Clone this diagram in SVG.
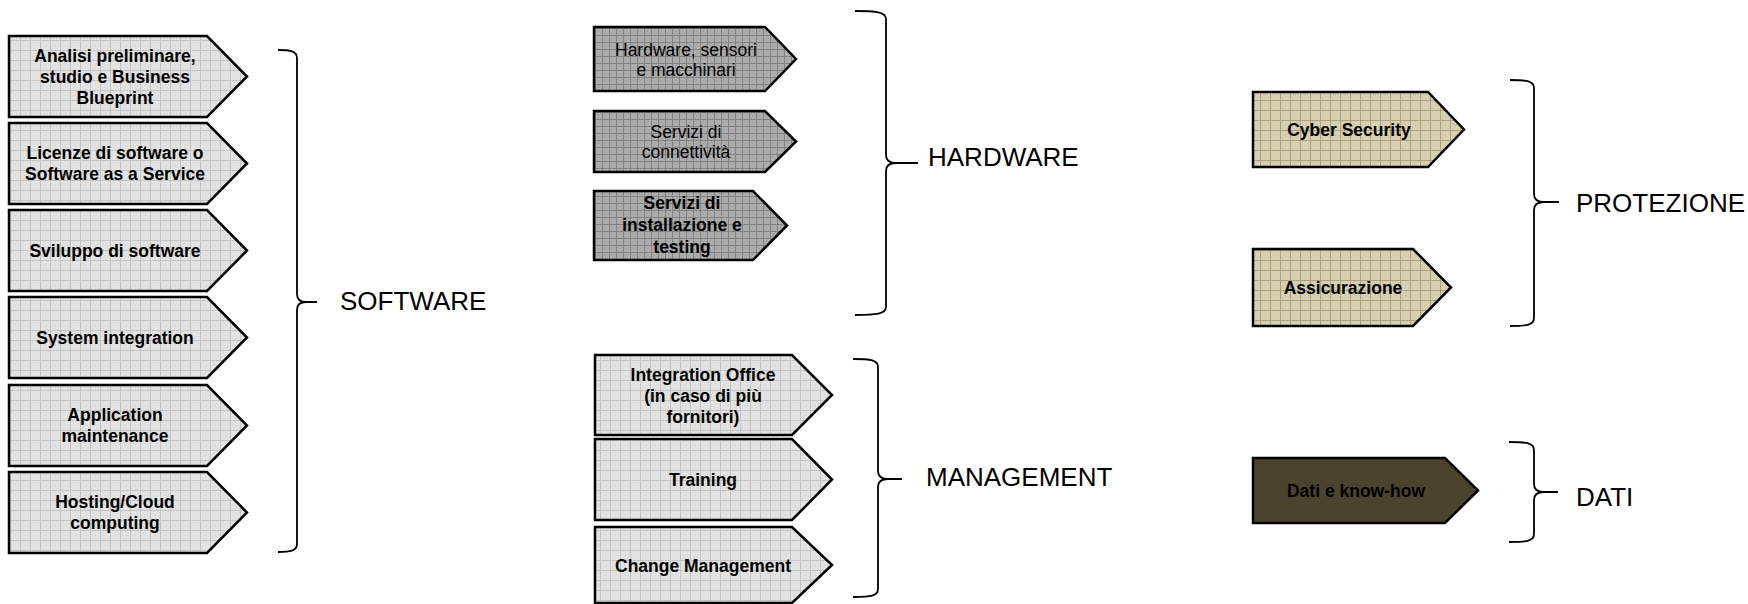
<svg xmlns="http://www.w3.org/2000/svg" width="1748" height="604" viewBox="0 0 1748 604">
<defs>
<pattern id="pLight" patternUnits="userSpaceOnUse" width="10" height="10">
<rect width="10" height="10" fill="#e2e2e2"/>
<rect x="5" y="5" width="1" height="1" fill="#d4d4d4"/>
<path d="M0 0.5H10M0.5 0V10" stroke="#c4c4c4" stroke-width="1"/>
</pattern>
<pattern id="pDark" patternUnits="userSpaceOnUse" width="7" height="7">
<rect width="7" height="7" fill="#acacac"/>
<rect x="3" y="3" width="1" height="1" fill="#9c9c9c"/>
<path d="M0 0.5H7M0.5 0V7" stroke="#828282" stroke-width="1"/>
</pattern>
<pattern id="pBeige" patternUnits="userSpaceOnUse" width="10" height="10">
<rect width="10" height="10" fill="#d6cfb2"/>
<rect x="5" y="5" width="1" height="1" fill="#c8c1a2"/>
<path d="M0 0.5H10M0.5 0V10" stroke="#aaa27c" stroke-width="1"/>
</pattern>
</defs>
<style>
.light{fill:url(#pLight);stroke:#000;stroke-width:2.5;stroke-linejoin:miter}
.dark{fill:url(#pDark);stroke:#000;stroke-width:2.5}
.beige{fill:url(#pBeige);stroke:#000;stroke-width:2.5}
.olive{fill:#4a432e;stroke:#000;stroke-width:2.5}
.t{font-family:"Liberation Sans",Arial,sans-serif;font-size:17.5px;fill:#000;text-anchor:middle}
.b{font-weight:bold}
.lab{font-family:"Liberation Sans",Arial,sans-serif;font-size:26px;fill:#000}
.brace{fill:none;stroke:#000;stroke-width:1.8}
</style>
<rect width="1748" height="604" fill="#fff"/>

<g id="sw1"><path class="light" d="M9 36H207L247 76.5L207 117H9Z"/><text class="t b"><tspan x="115" y="61.5">Analisi preliminare,</tspan><tspan x="115" y="82.5">studio e Business</tspan><tspan x="115" y="103.5">Blueprint</tspan></text></g>
<g id="sw2"><path class="light" d="M9 123H207L247 163.5L207 204H9Z"/><text class="t b"><tspan x="115" y="159">Licenze di software o</tspan><tspan x="115" y="180">Software as a Service</tspan></text></g>
<g id="sw3"><path class="light" d="M9 210H207L247 250.5L207 291H9Z"/><text class="t b" x="115" y="257">Sviluppo di software</text></g>
<g id="sw4"><path class="light" d="M9 297H207L247 337.5L207 378H9Z"/><text class="t b" x="115" y="344">System integration</text></g>
<g id="sw5"><path class="light" d="M9 385H207L247 425.5L207 466H9Z"/><text class="t b"><tspan x="115" y="421">Application</tspan><tspan x="115" y="442">maintenance</tspan></text></g>
<g id="sw6"><path class="light" d="M9 472H207L247 512.5L207 553H9Z"/><text class="t b"><tspan x="115" y="508">Hosting/Cloud</tspan><tspan x="115" y="529">computing</tspan></text></g>

<g id="hw1"><path class="dark" d="M594 27H765L796 59L765 91H594Z"/><text class="t"><tspan x="686" y="56">Hardware, sensori</tspan><tspan x="686" y="76">e macchinari</tspan></text></g>
<g id="hw2"><path class="dark" d="M594 111H765L796 141.5L765 172H594Z"/><text class="t"><tspan x="686" y="138">Servizi di</tspan><tspan x="686" y="158">connettività</tspan></text></g>
<g id="hw3"><path class="dark" d="M594 191H753L787 225.5L753 260H594Z"/><text class="t b"><tspan x="682" y="209">Servizi di</tspan><tspan x="682" y="231">installazione e</tspan><tspan x="682" y="253">testing</tspan></text></g>

<g id="mg1"><path class="light" d="M595 355H792L832 395L792 435H595Z"/><text class="t b"><tspan x="703" y="381">Integration Office</tspan><tspan x="703" y="402">(in caso di più</tspan><tspan x="703" y="423">fornitori)</tspan></text></g>
<g id="mg2"><path class="light" d="M595 439H792L832 479.5L792 520H595Z"/><text class="t b" x="703" y="486">Training</text></g>
<g id="mg3"><path class="light" d="M595 527H792L832 565L792 603H595Z"/><text class="t b" x="703" y="572">Change Management</text></g>

<g id="pr1"><path class="beige" d="M1253 92H1428L1464 129.5L1428 167H1253Z"/><text class="t b" x="1349" y="136">Cyber Security</text></g>
<g id="pr2"><path class="beige" d="M1253 249H1413L1451 287.5L1413 326H1253Z"/><text class="t b" x="1343" y="294">Assicurazione</text></g>

<g id="dt1"><path class="olive" d="M1253 458H1445L1478 490.5L1445 523H1253Z"/><text class="t b" x="1356" y="497" fill="#111">Dati e know-how</text></g>

<g id="connectors">
<path class="brace" d="M278 50C290 50 297 51 297 58L297 294Q297 302 306 302L317 302M306 302Q297 302 297 310L297 544C297 551 290 552 278 552"/>
<path class="brace" d="M855 11C876 11 886 12 886 19L886 155Q886 163 896 163L918 163M896 163Q886 163 886 171L886 307C886 314 876 315 855 315"/>
<path class="brace" d="M853 359C871 359 878 360 878 367L878 471Q878 479 888 479L902 479M888 479Q878 479 878 487L878 589C878 596 871 597 853 597"/>
<path class="brace" d="M1510 80C1527 80 1534 81 1534 88L1534 194Q1534 202 1544 202L1559 202M1544 202Q1534 202 1534 210L1534 318C1534 325 1527 326 1510 326"/>
<path class="brace" d="M1509 442C1527 442 1534 443 1534 450L1534 484Q1534 492 1544 492L1558 492M1544 492Q1534 492 1534 500L1534 534C1534 541 1527 542 1509 542"/>
</g>

<g id="labels">
<text class="lab" x="340" y="310">SOFTWARE</text>
<text class="lab" x="928" y="166">HARDWARE</text>
<text class="lab" x="926" y="486">MANAGEMENT</text>
<text class="lab" x="1576" y="212">PROTEZIONE</text>
<text class="lab" x="1576" y="506">DATI</text>
</g>
</svg>
